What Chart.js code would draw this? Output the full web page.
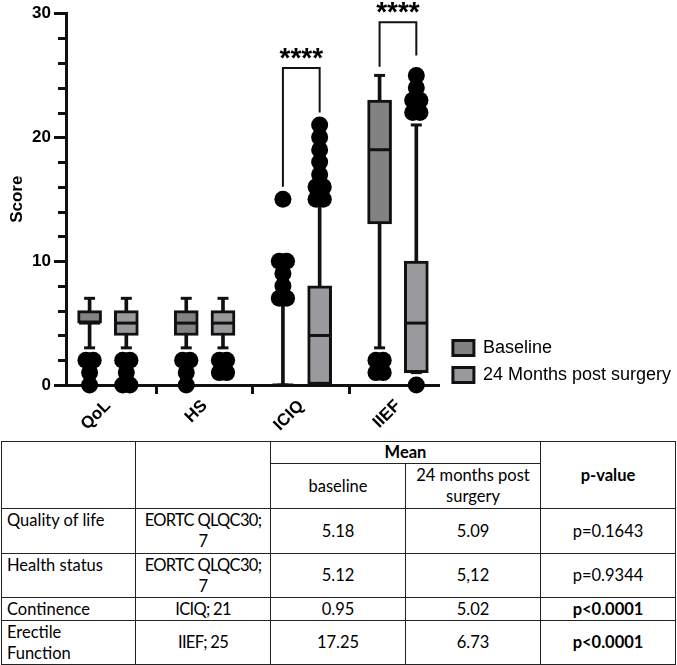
<!DOCTYPE html>
<html>
<head>
<meta charset="utf-8">
<script src="https://cdn.jsdelivr.net/npm/chart.js@4.4.1/dist/chart.umd.min.js"></script>
<style>
  body { margin: 0; background: #fff; }
  #wrap { width: 677px; height: 440px; }
  #stats {
    border-collapse: collapse;
    table-layout: fixed;
    width: 675px;
    margin: 1px 0 0 1px;
    font-family: Lato, "Open Sans", sans-serif;
    font-size: 16.5px;
    color: #000;
  }
  #stats td {
    border: 1px solid #222;
    padding: 0 2px;
    text-align: center;
    vertical-align: middle;
    line-height: 21px;
    white-space: pre;
    overflow: hidden;
  }
  #stats td.name { text-align: left; vertical-align: top; padding: 1px 5px 0; }
  #stats td.scale { letter-spacing: -0.7px; }
  #stats .b { font-weight: bold; }
</style>
</head>
<body>
<div id="wrap"><canvas id="chart" width="677" height="440"></canvas></div>
<table id="stats"></table>
<script>
// chart data
const categories = ['QoL', 'HS', 'ICIQ', 'IIEF'];
const seriesNames = ['Baseline', '24 Months post surgery'];
// [whisker low, Q1, median, Q3, whisker high]
const baselineBox = [[3, 5, 5, 6, 7], [3, 4, 5, 6, 7], [0, 0, 0, 0, 7], [3, 13, 19, 23, 25]];
const postBox = [[3, 4, 5, 6, 7], [3, 4, 5, 6, 7], [0, 0, 4, 8, 15], [1, 1, 5, 10, 21]];
const baselineOutliers = [[2, 2, 1, 0], [2, 2, 1, 0], [7, 7, 8, 9, 10, 10, 15], [2, 2, 1, 1]];
const postOutliers = [[2, 2, 1, 0, 0], [2, 2, 1, 1], [15, 15, 16, 16, 17, 18, 19, 20, 21], [22, 22, 23, 23, 24, 25, 0]];
const yTicks = [0, 10, 20, 30];

// significance brackets
const bracketCats = [2, 3];
const bracketTop = [25.6, 29.3];
const bracketLeftEnd = [16, 25.7];
const bracketRightEnd = [22, 26.6];
const bracketLabels = ['****', '****'];

// table data
const rowNames = ['Quality of life', 'Health status', 'Continence', 'Erectile\nFunction'];
const rowScales = ['EORTC QLQC30;\n7', 'EORTC QLQC30;\n7', 'ICIQ; 21', 'IIEF; 25'];
const meanBaseline = ['5.18', '5.12', '0.95', '17.25'];
const meanPost = ['5.09', '5,12', '5.02', '6.73'];
const pValues = ['p=0.1643', 'p=0.9344', 'p<0.0001', 'p<0.0001'];

const GAP = 0.19;      // half distance between the two boxes of a category
const JITTER = 0.075;  // spread of tied outliers
const INK = '#111';
const fills = ['#828282', '#9a9a9e'];

function spread(values, cx) {
  const counts = {}, seen = {};
  values.forEach(v => counts[v] = (counts[v] || 0) + 1);
  return values.map(v => {
    const k = seen[v] = (seen[v] || 0) + 1;
    return { x: cx + (k - 1 - (counts[v] - 1) / 2) * JITTER, y: v };
  });
}

const datasets = [];
[baselineBox, postBox].forEach((boxes, s) => {
  const dx = s === 0 ? -GAP : GAP;
  const outs = s === 0 ? baselineOutliers : postOutliers;
  datasets.push({
    type: 'bar', label: seriesNames[s], order: 3,
    data: boxes.map((b, i) => ({ x: i + dx, y: [b[1], b[3]] })),
    backgroundColor: fills[s], borderColor: INK, borderWidth: 3,
    borderSkipped: false, barThickness: 24, grouped: false, clip: false
  });
  datasets.push({
    type: 'bar', label: 'whisker', order: 4,
    data: boxes.map((b, i) => ({ x: i + dx, y: [b[0], b[4]] })),
    backgroundColor: INK, borderWidth: 0, barThickness: 3, grouped: false, clip: false
  });
  datasets.push({
    type: 'scatter', label: 'cap', order: 2,
    data: boxes.flatMap((b, i) => [{ x: i + dx, y: b[0] }, { x: i + dx, y: b[4] }]),
    pointStyle: 'line', pointRadius: 5.5, pointBorderWidth: 3, pointBorderColor: INK, clip: false
  });
  datasets.push({
    type: 'scatter', label: 'median', order: 1,
    data: boxes.map((b, i) => ({ x: i + dx, y: b[2] })),
    pointStyle: 'line', pointRadius: 10.5, pointBorderWidth: 3, pointBorderColor: INK, clip: false
  });
  datasets.push({
    type: 'scatter', label: 'outlier', order: 0,
    data: outs.flatMap((o, i) => spread(o, i + dx)),
    pointRadius: 8.5, pointBackgroundColor: '#000', pointBorderWidth: 0, clip: false
  });
});

bracketCats.forEach((c, k) => {
  datasets.push({
    type: 'line', label: 'bracket', order: 5,
    data: [
      { x: c - GAP, y: bracketLeftEnd[k] }, { x: c - GAP, y: bracketTop[k] },
      { x: c + GAP, y: bracketTop[k] }, { x: c + GAP, y: bracketRightEnd[k] }
    ],
    borderColor: INK, borderWidth: 2, pointRadius: 0, fill: false, tension: 0, clip: false
  });
});

// minor ticks on the y axis, stars above brackets, legend nudge
const extras = {
  id: 'extras',
  afterLayout(chart) {
    const lg = chart.legend;
    lg.left += 4; lg.right += 4;
    lg.top += 8; lg.bottom += 8;
  },
  afterDraw(chart) {
    const { ctx, scales: { x, y } } = chart;
    ctx.save();
    ctx.strokeStyle = INK;
    ctx.lineWidth = 3;
    for (let v = y.min; v <= y.max; v += 2) {
      if (v % 10 === 0) continue;
      const py = Math.round(y.getPixelForValue(v)) + 0.5;
      ctx.beginPath();
      ctx.moveTo(x.left - 8, py);
      ctx.lineTo(x.left, py);
      ctx.stroke();
    }
    ctx.fillStyle = '#000';
    ctx.font = 'bold 28px "Liberation Sans", Arial, sans-serif';
    ctx.textAlign = 'center';
    ctx.textBaseline = 'alphabetic';
    bracketCats.forEach((c, k) => {
      ctx.fillText(bracketLabels[k], x.getPixelForValue(c), y.getPixelForValue(bracketTop[k]) - 1);
    });
    ctx.restore();
  }
};

Chart.defaults.font.family = '"Liberation Sans", Arial, sans-serif';
Chart.defaults.color = '#000';

new Chart(document.getElementById('chart'), {
  type: 'bar',
  data: { datasets },
  plugins: [extras],
  options: {
    responsive: false,
    animation: false,
    layout: { padding: { top: 10, right: 0 } },
    plugins: {
      tooltip: { enabled: false },
      legend: {
        position: 'right',
        align: 'end',
        fullSize: false,
        maxWidth: 240,
        labels: {
          boxWidth: 21,
          boxHeight: 15,
          padding: 9,
          font: { size: 18 },
          filter: item => seriesNames.includes(item.text)
        }
      }
    },
    scales: {
      x: {
        type: 'linear',
        offset: false,
        min: -0.434,
        max: 3.434,
        afterBuildTicks: s => { s.ticks = categories.map((_, i) => ({ value: i })); },
        afterFit: s => { s.height = 55; },
        ticks: {
          callback: v => categories[v],
          font: { size: 17, weight: 'bold' },
          minRotation: 45,
          maxRotation: 45,
          padding: 2
        },
        grid: { drawOnChartArea: false, tickLength: 9, tickWidth: 3, tickColor: INK },
        border: { color: INK, width: 3 }
      },
      y: {
        min: 0,
        max: 30,
        afterBuildTicks: s => { s.ticks = yTicks.map(v => ({ value: v })); },
        afterFit: s => { s.width = 66; },
        ticks: { font: { size: 17, weight: 'bold' }, padding: 3 },
        grid: { drawOnChartArea: false, tickLength: 12, tickWidth: 3, tickColor: INK },
        border: { color: INK, width: 3 },
        title: { display: true, text: 'Score', font: { size: 17, weight: 'bold' }, padding: { top: 7, bottom: 0 } }
      }
    }
  }
});

// table
const table = document.getElementById('stats');
const widths = [134, 135, 135, 135, 135];
let html = '<colgroup>' + widths.map(w => `<col style="width:${w}px">`).join('') + '</colgroup>';
html += '<tr style="height:21px"><td rowspan="2"></td><td rowspan="2"></td><td colspan="2" class="b">Mean</td><td rowspan="2" class="b">p-value</td></tr>';
html += '<tr style="height:45px"><td>baseline</td><td>24 months post\nsurgery</td></tr>';
const rowHeights = [45, 44, 23, 44];
rowNames.forEach((name, i) => {
  const bold = pValues[i].startsWith('p<') ? ' class="b"' : '';
  html += `<tr style="height:${rowHeights[i]}px"><td class="name">${name}</td><td class="scale">${rowScales[i]}</td>` +
    `<td>${meanBaseline[i]}</td><td>${meanPost[i]}</td><td${bold}>${pValues[i]}</td></tr>`;
});
table.innerHTML = html;
</script>
</body>
</html>
